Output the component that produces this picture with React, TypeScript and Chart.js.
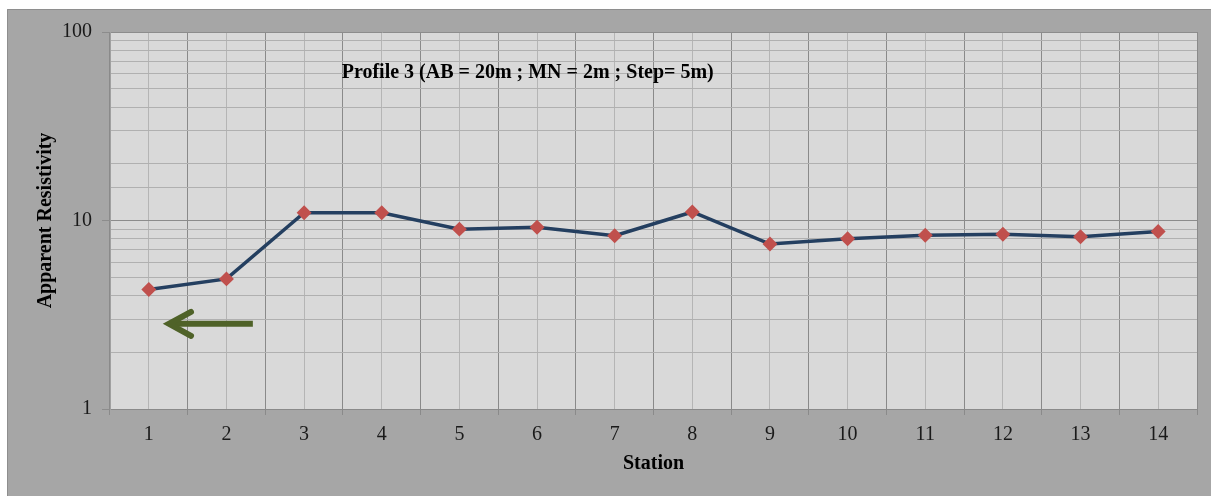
import React, { useEffect, useRef } from "react";
import { Chart, registerables } from "chart.js";

Chart.register(...registerables);

// ---- Data ----
const stations = ["1", "2", "3", "4", "5", "6", "7", "8", "9", "10", "11", "12", "13", "14"];
const resistivity = [4.3, 4.9, 11.0, 11.0, 9.0, 9.2, 8.3, 11.1, 7.5, 8.0, 8.35, 8.45, 8.2, 8.75];
const yTickLabels = [1, 10, 100];
const chartTitle = "Profile 3 (AB = 20m ; MN = 2m ; Step= 5m)";
const yAxisTitle = "Apparent Resistivity";
const xAxisTitle = "Station";
// annotation arrow (category index, value)
const arrowTail = [1.34, 2.83];
const arrowTip = [0.26, 2.83];
// title anchor (category index, value)
const titleAnchor = [4.88, 61];

const FONT = "'Liberation Serif', 'Times New Roman', serif";

const decorPlugin = {
  id: "decor",
  beforeDraw(chart: any) {
    const { ctx, chartArea: a, width, height } = chart;
    ctx.save();
    ctx.fillStyle = "#a6a6a6";
    ctx.fillRect(0, 0, width, height);
    ctx.strokeStyle = "#8e8e8e";
    ctx.lineWidth = 1;
    ctx.beginPath();
    ctx.moveTo(0.5, height);
    ctx.lineTo(0.5, 0.5);
    ctx.lineTo(width, 0.5);
    ctx.stroke();
    ctx.fillStyle = "#d9d9d9";
    ctx.fillRect(a.left, a.top, a.right - a.left, a.bottom - a.top);
    ctx.restore();
  },
  afterDraw(chart: any) {
    const { ctx } = chart;
    const xs = chart.scales.x;
    const ys = chart.scales.y;
    // arrow
    const tx = xs.getPixelForValue(arrowTip[0]);
    const ty = ys.getPixelForValue(arrowTip[1]);
    const sx = xs.getPixelForValue(arrowTail[0]);
    const sy = ys.getPixelForValue(arrowTail[1]);
    ctx.save();
    ctx.strokeStyle = "#4f6228";
    ctx.lineWidth = 6;
    ctx.lineCap = "butt";
    ctx.beginPath();
    ctx.moveTo(sx, sy);
    ctx.lineTo(tx + 4, ty);
    ctx.stroke();
    ctx.lineCap = "round";
    ctx.lineJoin = "miter";
    ctx.beginPath();
    ctx.moveTo(tx + 22, ty - 12);
    ctx.lineTo(tx, ty);
    ctx.lineTo(tx + 22, ty + 12);
    ctx.stroke();
    // title
    ctx.fillStyle = "#000";
    ctx.font = `bold 20px ${FONT}`;
    ctx.textAlign = "center";
    ctx.textBaseline = "middle";
    ctx.fillText(chartTitle, xs.getPixelForValue(titleAnchor[0]), ys.getPixelForValue(titleAnchor[1]));
    ctx.restore();
  },
};

export default function App() {
  const ref = useRef<HTMLCanvasElement | null>(null);
  useEffect(() => {
    if (!ref.current) return;
    const chart = new Chart(ref.current, {
      type: "line",
      data: {
        labels: stations,
        datasets: [
          {
            data: resistivity,
            borderColor: "#243f60",
            borderWidth: 3.5,
            pointStyle: "rectRot",
            pointRadius: 5,
            pointBackgroundColor: "#c0504d",
            pointBorderColor: "#c0504d",
            tension: 0,
          },
        ],
      },
      plugins: [decorPlugin],
      options: {
        animation: false,
        responsive: true,
        maintainAspectRatio: false,
        layout: { padding: { top: 23, right: 14, left: 0, bottom: 0 } },
        plugins: { legend: { display: false }, tooltip: { enabled: false } },
        scales: {
          x: {
            type: "category",
            offset: true,
            grid: {
              offset: true,
              color: "#8a8a8a",
              tickColor: "#8a8a8a",
              tickLength: 6,
            },
            border: { color: "#8a8a8a" },
            ticks: { color: "#1a1a1a", font: { family: FONT, size: 20 }, padding: 8, maxRotation: 0 },
            title: {
              display: true,
              text: xAxisTitle,
              color: "#000",
              font: { family: FONT, size: 20, weight: "bold" },
              padding: { top: 0, bottom: 20 },
            },
            afterFit: (s: any) => {
              s.height = 87;
            },
          },
          x2: {
            type: "category",
            labels: stations,
            offset: true,
            position: "bottom",
            grid: { offset: false, color: "#b5b5b5", drawTicks: false },
            border: { display: false },
            ticks: { display: false },
            afterFit: (s: any) => {
              s.height = 0;
            },
          },
          y: {
            type: "logarithmic",
            min: 1,
            max: 100,
            grid: {
              color: (c: any) => (yTickLabels.includes(c.tick?.value) ? "#8c8c8c" : "#b0b0b0"),
              tickColor: (c: any) => (yTickLabels.includes(c.tick?.value) ? "#8c8c8c" : "rgba(0,0,0,0)"),
              tickLength: 8,
            },
            border: { color: "#a0a0a0" },
            ticks: {
              autoSkip: false,
              color: "#1a1a1a",
              font: { family: FONT, size: 20 },
              padding: 10,
              callback: (v: any) => (yTickLabels.includes(Number(v)) ? String(v) : ""),
            },
            title: {
              display: true,
              text: yAxisTitle,
              color: "#000",
              font: { family: FONT, size: 20, weight: "bold" },
              padding: { top: 27, bottom: 0 },
            },
            afterFit: (s: any) => {
              s.width = 103;
            },
          },
        },
      },
    } as any);
    return () => chart.destroy();
  }, []);
  return (
    <div style={{ position: "absolute", left: 7, top: 9, width: 1204, height: 487 }}>
      <canvas ref={ref} />
    </div>
  );
}
